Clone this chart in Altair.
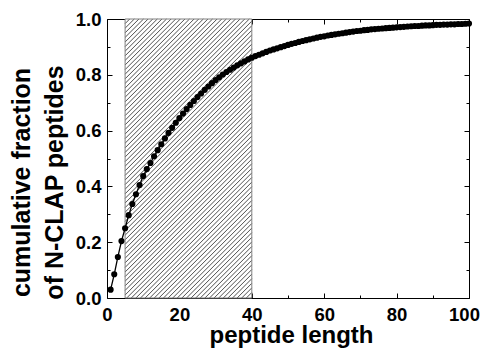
import altair as alt
import pandas as pd

# ---------------- data ----------------
lengths = list(range(1, 101))
fractions = [
    0.030, 0.085, 0.147, 0.204, 0.250, 0.297, 0.337, 0.372, 0.405, 0.437,
    0.462, 0.484, 0.508, 0.530, 0.551, 0.572, 0.592, 0.610, 0.628, 0.645,
    0.661, 0.677, 0.692, 0.706, 0.720, 0.733, 0.746, 0.758, 0.770, 0.781,
    0.791, 0.801, 0.810, 0.818, 0.826, 0.834, 0.841, 0.848, 0.855, 0.861,
    0.867, 0.872, 0.877, 0.882, 0.887, 0.891, 0.895, 0.899, 0.903, 0.907,
    0.911, 0.914, 0.918, 0.921, 0.924, 0.927, 0.930, 0.933, 0.936, 0.938,
    0.941, 0.943, 0.945, 0.947, 0.949, 0.951, 0.953, 0.955, 0.957, 0.958,
    0.960, 0.961, 0.963, 0.964, 0.965, 0.966, 0.967, 0.968, 0.969, 0.970,
    0.971, 0.972, 0.973, 0.974, 0.975, 0.975, 0.976, 0.977, 0.977, 0.978,
    0.979, 0.979, 0.980, 0.980, 0.981, 0.981, 0.982, 0.982, 0.983, 0.984,
]
window_start = 5      # hatched length window
window_end = 40
x_domain = [0, 100]
y_domain = [0, 1]
x_major = [0, 20, 40, 60, 80, 100]
x_minor = [10, 30, 50, 70, 90]
y_major = [0.0, 0.2, 0.4, 0.6, 0.8, 1.0]
y_minor = [0.1, 0.3, 0.5, 0.7, 0.9]
x_title = "peptide length"
y_title = ["cumulative fraction", "of N-CLAP peptides"]

# ---------------- layout ----------------
W, H = 362, 279
FONT = "Liberation Sans"

df = pd.DataFrame({"length": lengths, "frac": fractions})
win = pd.DataFrame({"x0": [window_start], "x1": [window_end],
                    "y0": [y_domain[0]], "y1": [y_domain[1]]})

# hatch lines (45 degrees on screen) inside the window, in data units
step = 4.6
xs = x_domain[1] - x_domain[0]
ys = y_domain[1] - y_domain[0]
u0 = (window_start - x_domain[0]) / xs * W
u1 = (window_end - x_domain[0]) / xs * W
segs = []
c = u0 - H
while c < u1:
    us = max(u0, c)
    ue = min(u1, c + H)
    if ue > us:
        segs.append({
            "hx": x_domain[0] + us / W * xs, "hy": y_domain[0] + (us - c) / H * ys,
            "hx2": x_domain[0] + ue / W * xs, "hy2": y_domain[0] + (ue - c) / H * ys,
        })
    c += step
hatch = pd.DataFrame(segs)

xscale = alt.Scale(domain=x_domain, nice=False, zero=False)
yscale = alt.Scale(domain=y_domain, nice=False, zero=False)


def tick_axis(orient, values, size):
    return alt.Axis(orient=orient, values=values, labels=False, domain=False,
                    grid=False, ticks=True, tickSize=size, offset=-size,
                    tickColor="black", tickWidth=1, title=None)


main_x = alt.Axis(orient="bottom", values=x_major, grid=False, domain=False,
                  ticks=False, labelFlush=False, labelPadding=7,
                  labelOffset={"condition": {"test": f"datum.value >= {x_domain[1]}",
                                             "value": -5},
                               "value": 0},
                  labelFont=FONT, labelFontSize=18.5, labelFontWeight="bold",
                  labelColor="black", labelBaseline="top",
                  title=x_title, titleFont=FONT, titleFontSize=24,
                  titleFontWeight="bold", titleColor="black",
                  titleX=184, titleY=44, titleAlign="center",
                  titleBaseline="alphabetic")
main_y = alt.Axis(orient="left", values=y_major, format=".1f", grid=False,
                  domain=False, ticks=False, labelPadding=6,
                  labelFont=FONT, labelFontSize=18.5, labelFontWeight="bold",
                  labelColor="black",
                  title=y_title, titleFont=FONT, titleFontSize=25,
                  titleFontWeight="bold", titleColor="black",
                  titleAngle=270, titleX=-78, titleY=163, titleAlign="center",
                  titleBaseline="alphabetic", titleLineHeight=33)

background = alt.Chart(win).mark_rect(fill="white").encode(
    x=alt.X("x0:Q", scale=xscale, axis=main_x),
    x2="x1:Q",
    y=alt.Y("y0:Q", scale=yscale, axis=main_y),
    y2="y1:Q",
)

hatch_lines = alt.Chart(hatch).mark_rule(color="#222222", strokeWidth=0.8).encode(
    x=alt.X("hx:Q", scale=xscale, axis=tick_axis("bottom", x_major, 5)),
    x2="hx2:Q",
    y=alt.Y("hy:Q", scale=yscale, axis=tick_axis("left", y_major, 5)),
    y2="hy2:Q",
)

border = alt.Chart(win).mark_rect(fillOpacity=0, stroke="#808080", strokeWidth=1).encode(
    x=alt.X("x0:Q", scale=xscale, axis=tick_axis("top", x_minor, 3)),
    x2="x1:Q",
    y=alt.Y("y0:Q", scale=yscale, axis=tick_axis("right", y_minor, 3)),
    y2="y1:Q",
)

line = alt.Chart(df).mark_line(color="black", strokeWidth=1.3).encode(
    x=alt.X("length:Q", scale=xscale, axis=tick_axis("bottom", x_minor, 3)),
    y=alt.Y("frac:Q", scale=yscale, axis=tick_axis("left", y_minor, 3)),
)

points = alt.Chart(df).mark_circle(size=38, color="black", opacity=1).encode(
    x=alt.X("length:Q", scale=xscale, axis=tick_axis("top", x_major, 5)),
    y=alt.Y("frac:Q", scale=yscale, axis=tick_axis("right", y_major, 5)),
)

chart = (
    alt.layer(background, hatch_lines, border, line, points)
    .resolve_axis(x="independent", y="independent")
    .properties(
        width=W, height=H,
        autosize=alt.AutoSizeParams(type="none"),
        padding={"left": 99, "top": 11, "right": 12, "bottom": 52},
    )
    .configure(font=FONT, background="white")
    .configure_view(stroke="black", strokeWidth=1)
)

chart.save("out.html", embed_options={"renderer": "svg", "actions": False})
